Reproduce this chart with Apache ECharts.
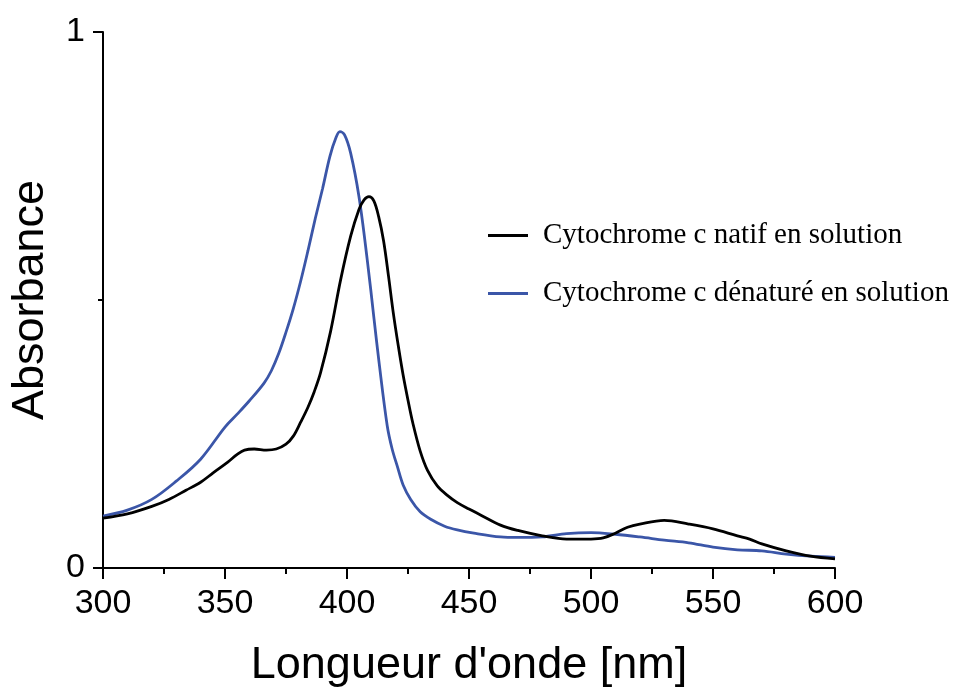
<!DOCTYPE html>
<html>
<head>
<meta charset="utf-8">
<script src="https://cdn.jsdelivr.net/npm/echarts@6/dist/echarts.min.js"></script>
<style>
  html, body { margin: 0; padding: 0; background: #fff; }
  #chart { width: 957px; height: 693px; }
</style>
</head>
<body>
<div id="chart"></div>
<script>
// UV-visible absorbance spectra of cytochrome c (native vs. denatured)
const nativeWavelength = [300, 310, 320, 327, 334, 340, 345, 351, 355, 358, 362, 367, 371, 375, 378, 381, 384, 386.5, 389.2, 393.3, 397.4, 401.5, 404.9, 407, 409, 411, 413, 415, 417, 419, 421, 423, 425, 427, 430, 433, 437, 441, 445.2, 450, 454.7, 462.9, 470, 480, 490, 500, 505, 510, 515, 520, 530, 540, 550, 560, 565, 570, 580, 590, 600];
const nativeAbs = [0.093, 0.101, 0.115, 0.128, 0.145, 0.160, 0.177, 0.197, 0.212, 0.220, 0.222, 0.220, 0.222, 0.231, 0.246, 0.272, 0.300, 0.328, 0.365, 0.442, 0.538, 0.619, 0.669, 0.687, 0.693, 0.685, 0.655, 0.610, 0.545, 0.475, 0.415, 0.360, 0.313, 0.270, 0.218, 0.182, 0.153, 0.136, 0.122, 0.110, 0.099, 0.080, 0.070, 0.060, 0.054, 0.054, 0.056, 0.065, 0.076, 0.082, 0.089, 0.082, 0.073, 0.060, 0.054, 0.045, 0.032, 0.022, 0.017];

const denatWavelength = [300, 310, 320, 330, 340, 350, 355, 360, 366, 369, 372, 375, 378, 381, 384, 387, 390, 393, 395.5, 397.1, 399, 401.5, 404.9, 408.3, 411.1, 413.1, 416.5, 418.5, 420.6, 423, 426.1, 430, 434.3, 440, 445.2, 452, 462.9, 470, 480, 490, 500, 510, 520, 530, 540, 550, 560, 570, 580, 590, 600];
const denatAbs = [0.097, 0.108, 0.128, 0.162, 0.203, 0.263, 0.287, 0.312, 0.345, 0.368, 0.400, 0.440, 0.484, 0.535, 0.592, 0.652, 0.708, 0.768, 0.803, 0.814, 0.808, 0.774, 0.693, 0.575, 0.464, 0.385, 0.265, 0.222, 0.190, 0.155, 0.128, 0.105, 0.091, 0.078, 0.071, 0.065, 0.058, 0.057, 0.058, 0.064, 0.066, 0.063, 0.058, 0.052, 0.047, 0.039, 0.034, 0.032, 0.026, 0.022, 0.020];

const seriesNames = ['Cytochrome c natif en solution', 'Cytochrome c dénaturé en solution'];
const xTitle = "Longueur d'onde [nm]";
const yTitle = 'Absorbance';

const pairs = (xs, ys) => xs.map((x, i) => [x, ys[i]]);

const chart = echarts.init(document.getElementById('chart'), null, { renderer: 'canvas' });
const sans = '"Liberation Sans", Arial, sans-serif';
const serif = '"Liberation Serif", "Times New Roman", serif';

chart.setOption({
  animation: false,
  backgroundColor: '#ffffff',
  grid: { left: 102, right: 122, top: 32, bottom: 124, containLabel: false },
  legend: {
    orient: 'vertical',
    left: 483,
    top: 216,
    itemGap: 29,
    itemWidth: 40,
    itemHeight: 3,
    icon: 'rect',
    textStyle: { fontFamily: serif, fontSize: 29, color: '#000', padding: [0, 0, 0, 10] },
    data: seriesNames
  },
  xAxis: {
    type: 'value',
    min: 300,
    max: 600,
    interval: 50,
    name: xTitle,
    nameLocation: 'middle',
    nameGap: 75,
    nameTextStyle: { fontFamily: sans, fontSize: 45, color: '#000' },
    axisLine: { lineStyle: { color: '#000', width: 2 } },
    axisTick: { show: true, length: 11, lineStyle: { color: '#000', width: 2 } },
    minorTick: { show: true, splitNumber: 2, length: 6, lineStyle: { color: '#000', width: 2 } },
    axisLabel: { fontFamily: sans, fontSize: 34, color: '#000', margin: 19 },
    splitLine: { show: false }
  },
  yAxis: {
    type: 'value',
    min: 0,
    max: 1,
    interval: 1,
    name: yTitle,
    nameLocation: 'middle',
    nameGap: 50,
    nameTextStyle: { fontFamily: sans, fontSize: 45, color: '#000' },
    axisLine: { show: true, lineStyle: { color: '#000', width: 2 } },
    axisTick: { show: true, length: 10, lineStyle: { color: '#000', width: 2 } },
    minorTick: { show: true, splitNumber: 2, length: 5, lineStyle: { color: '#000', width: 2 } },
    axisLabel: { fontFamily: sans, fontSize: 34, color: '#000', margin: 18 },
    splitLine: { show: false }
  },
  series: [
    {
      name: seriesNames[0],
      type: 'line',
      data: pairs(nativeWavelength, nativeAbs),
      smooth: 0.35,
      showSymbol: false,
      symbol: 'none',
      lineStyle: { color: '#000000', width: 2.8 },
      itemStyle: { color: '#000000' },
      z: 3
    },
    {
      name: seriesNames[1],
      type: 'line',
      data: pairs(denatWavelength, denatAbs),
      smooth: 0.35,
      showSymbol: false,
      symbol: 'none',
      lineStyle: { color: '#3b56a8', width: 2.8 },
      itemStyle: { color: '#3b56a8' },
      z: 2
    }
  ]
});
</script>
</body>
</html>
